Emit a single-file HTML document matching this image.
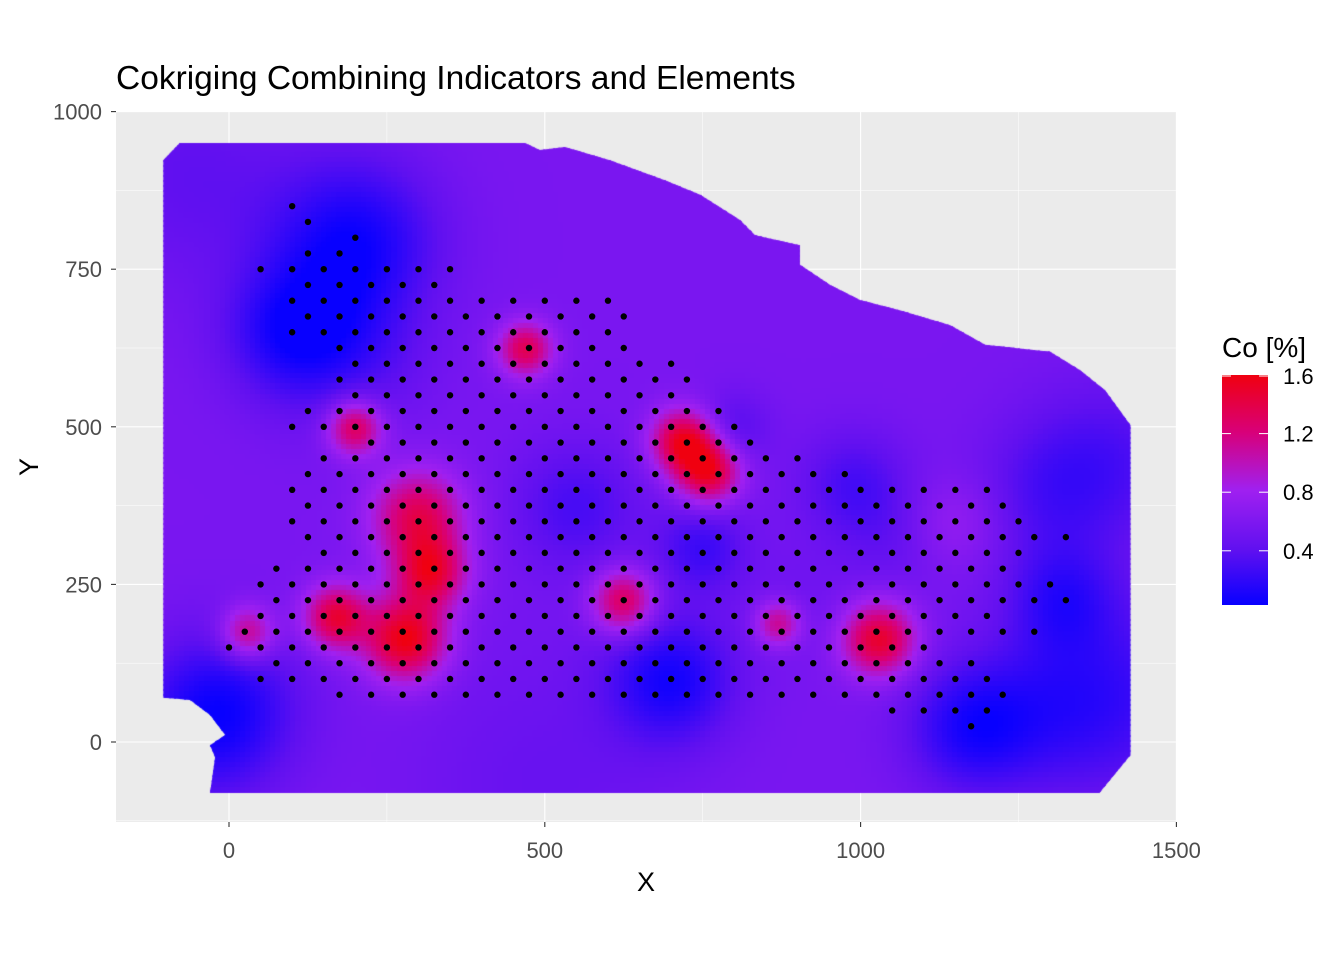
<!DOCTYPE html>
<html><head><meta charset="utf-8"><style>
body{margin:0;background:#fff;width:1344px;height:960px;overflow:hidden;font-family:"Liberation Sans",sans-serif}
</style></head><body>
<svg id="chart" width="1344" height="960" xmlns="http://www.w3.org/2000/svg" style="position:absolute;left:0;top:0">
<text x="116" y="89" font-size="33.5" fill="#000">Cokriging Combining Indicators and Elements</text>
<rect x="116" y="112" width="1060" height="710" fill="#ebebeb"/>
<g id="grid"></g>
<foreignObject x="116" y="112" width="1060" height="710"><canvas xmlns="http://www.w3.org/1999/xhtml" id="cv" width="1060" height="710"></canvas></foreignObject>
<g id="pts"></g>
<g id="axes"></g>
<text x="646" y="891" font-size="27" text-anchor="middle">X</text>
<text transform="translate(38,467) rotate(-90)" font-size="27" text-anchor="middle">Y</text>
<g>
<text x="1222" y="357" font-size="28">Co [%]</text>
<defs><linearGradient id="lg" x1="0" y1="1" x2="0" y2="0">
<stop offset="0" stop-color="#0800ff"/><stop offset="0.24" stop-color="#6010f0"/><stop offset="0.5" stop-color="#a020f0"/><stop offset="0.75" stop-color="#d8007a"/><stop offset="1" stop-color="#f00010"/></linearGradient></defs>
<rect x="1222" y="375" width="46" height="230" fill="url(#lg)"/>
<g id="leg"></g>
</g>
</svg>
<script>
const xTicks=[0,500,1000,1500];
const yTicks=[0,250,500,750,1000];
const legendTicks=[0.4,0.8,1.2,1.6];
const baseValue=0.56;
const hotX=[200,100,550,700,1175,1320,750,990,0,800,470,200,300,280,170,30,720,760,625,1030,870,320,-60,250,900,1300,1150,1050,-50,1300,150,1410,1400,500];
const hotY=[800,650,375,100,25,230,310,410,60,500,625,500,360,165,200,175,480,430,225,165,190,270,900,600,230,400,350,320,20,50,650,80,450,-60];
const hotV=[0.1,0.25,0.3,0.1,0.15,0.25,0.25,0.3,0.25,0.35,1.35,1.35,1.35,1.6,1.45,1.2,1.5,1.5,1.35,1.5,1.15,1.4,0.4,0.5,0.5,0.35,0.75,0.45,0.3,0.35,0.3,0.3,0.35,0.45];
const hotS=[90,70,70,70,70,60,50,60,80,40,30,30,50,45,35,30,35,35,35,40,25,40,120,60,60,80,50,60,90,90,90,110,90,150];
const boundX=[-104,-78,469,492,532,603,690,746,809,833,904,904,952,999,1062,1142,1197,1300,1347,1387,1427,1427,1378,-30,-22,-30,-6,-30,-62,-104];
const boundY=[923,950,950,939,944,923,891,868,828,804,788,757,725,701,685,661,630,619,590,558,503,-21,-81,-81,-24,-5,11,43,67,70];
const rowY=[850,825,800,775,750,725,700,675,650,625,600,575,550,525,500,475,450,425,400,375,350,325,300,275,250,225,200,175,150,125,100,75,50,25];
const rowStart=[100,125,200,125,50,125,100,125,100,175,200,175,200,125,100,225,150,125,100,125,100,125,150,75,50,75,50,25,0,75,50,175,1050,1175];
const rowEnd=[100,125,200,175,350,325,600,625,600,625,700,725,700,775,800,825,900,975,1200,1225,1250,1325,1275,1225,1300,1325,1200,1275,1100,1200,1225,1225,1200,1175];
const sx=v=>229+(v)*0.6316, sy=v=>742-(v)*0.6304;
const NS='http://www.w3.org/2000/svg';
function mk(tag,at,parent){const e=document.createElementNS(NS,tag);for(const k in at)e.setAttribute(k,at[k]);parent.appendChild(e);return e;}
const grid=document.getElementById('grid');
for(let i=0;i<xTicks.length;i++){const v=xTicks[i];
 const l=mk('line',{x1:sx(v),x2:sx(v),y1:112,y2:822,stroke:'#fff','stroke-width':1.1},grid);
 
 
 if(i<xTicks.length-1){const m=mk('line',{x1:sx(v+250),x2:sx(v+250),y1:112,y2:822,stroke:'#fff','stroke-width':0.5},grid);
 
 }}
for(let i=0;i<yTicks.length;i++){const v=yTicks[i];
 const l=mk('line',{x1:116,x2:1176,y1:sy(v),y2:sy(v),stroke:'#fff','stroke-width':1.1},grid);
 
 
 for(const mv of [v-125,v+125]){if(mv<-125||mv>1000||(mv<v&&i>0))continue;
 const m=mk('line',{x1:116,x2:1176,y1:sy(mv),y2:sy(mv),stroke:'#fff','stroke-width':0.5},grid);
 
 }}
const axes=document.getElementById('axes');
xTicks.forEach(v=>{mk('line',{x1:sx(v),x2:sx(v),y1:822,y2:827,stroke:'#333','stroke-width':1.1},axes);
 const t=mk('text',{x:sx(v),y:858,'font-size':22,fill:'#4d4d4d','text-anchor':'middle'},axes);t.textContent=v;
 
 });
yTicks.forEach(v=>{mk('line',{x1:111,x2:116,y1:sy(v),y2:sy(v),stroke:'#333','stroke-width':1.1},axes);
 const t=mk('text',{x:102,y:sy(v)+8,'font-size':22,fill:'#4d4d4d','text-anchor':'end'},axes);t.textContent=v;
 
 });
const leg=document.getElementById('leg');
const ly=v=>605-(v-0.03)/(1.6-0.03)*230;
legendTicks.forEach(v=>{const y=Math.max(ly(v),376);
 mk('line',{x1:1222,x2:1231,y1:y,y2:y,stroke:'#fff','stroke-width':1},leg);
 mk('line',{x1:1259,x2:1268,y1:y,y2:y,stroke:'#fff','stroke-width':1},leg);
 const t=mk('text',{x:1283,y:y+8,'font-size':22,fill:'#000'},leg);t.textContent=v.toFixed(1);
 
 });
const stops=[[0.03,[8,0,255]],[0.4,[96,16,240]],[0.8,[160,32,240]],[1.2,[216,0,122]],[1.6,[240,0,16]]];
function col(v){v=Math.max(0.03,Math.min(1.6,v));for(let i=1;i<stops.length;i++){if(v<=stops[i][0]){const a=stops[i-1],b=stops[i],t=(v-a[0])/(b[0]-a[0]);return 'rgb('+a[1].map((c,k)=>Math.round(c+(b[1][k]-c)*t)).join(',')+')';}}return 'rgb(240,0,16)';}
function field(x,y){let v=baseValue;for(let i=0;i<hotX.length;i++){const d2=(x-hotX[i])**2+(y-hotY[i])**2;v+=(hotV[i]-baseValue)*Math.exp(-d2/(2*hotS[i]*hotS[i]));}return v;}
const cv=document.getElementById('cv'),ctx=cv.getContext('2d');
ctx.beginPath();boundX.forEach((x,i)=>{const px=sx(x)-116,py=sy(boundY[i])-112;i?ctx.lineTo(px,py):ctx.moveTo(px,py);});ctx.closePath();ctx.clip();
const cell=8;
for(let x=-110;x<1500;x+=cell)for(let y=-85;y<960;y+=cell){ctx.fillStyle=col(field(x+cell/2,y+cell/2));
 ctx.fillRect(Math.floor(sx(x)-116),Math.floor(sy(y+cell)-112),Math.ceil(cell*0.6316)+1,Math.ceil(cell*0.6304)+1);}
const pts=document.getElementById('pts');
rowY.forEach((y,i)=>{for(let x=rowStart[i];x<=rowEnd[i];x+=50){const c=mk('circle',{cx:sx(x),cy:sy(y),r:3.2,fill:'#000'},pts);
 
 }});
</script>
</body></html>
